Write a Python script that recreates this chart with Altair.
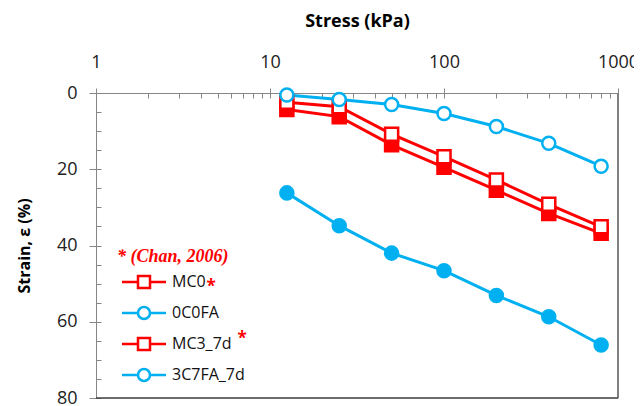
import altair as alt
import pandas as pd

# ---- data ----
stress = [12.5, 25, 50, 100, 200, 400, 800]
mc0 = [4.3, 6.2, 13.6, 19.5, 25.5, 31.6, 36.8]
c0fa = [26.2, 34.8, 42.0, 46.6, 53.1, 58.7, 66.1]
mc3_7d = [2.4, 3.6, 10.8, 16.7, 22.8, 29.2, 35.1]
c7fa_7d = [0.5, 1.7, 3.0, 5.4, 8.8, 13.2, 19.2]

series_names = ["MC0", "0C0FA", "MC3_7d", "3C7FA_7d"]
stroke_colors = ["#FF0000", "#00B0F0", "#FF0000", "#00B0F0"]
fill_colors = ["#FF0000", "#00B0F0", "#FFFFFF", "#FFFFFF"]
plot_shapes = ["square", "circle", "square", "circle"]

x_domain = [1, 1000]
y_domain = [0, 80]
x_major = [1, 10, 100, 1000]
x_minor = [1, 2, 3, 4, 5, 6, 7, 8, 9, 10, 20, 30, 40, 50, 60, 70, 80, 90,
           100, 200, 300, 400, 500, 600, 700, 800, 900, 1000]
y_major = [0, 20, 40, 60, 80]
y_minor = [0, 5, 10, 15, 20, 25, 30, 35, 40, 45, 50, 55, 60, 65, 70, 75, 80]

legend_title = "* (Chan, 2006)"

# legend symbols: line + marker as custom paths
sq_path = "M-3.67,0H-1M1,0H3.67M-1,-1H1V1H-1Z"
ci_path = ("M-3.67,0H-1M1,0H3.67M-1,0A1,1,0,1,0,1,0"
           "A1,1,0,1,0,-1,0Z")
legend_shapes = [sq_path, ci_path, sq_path, ci_path]

rows = []
for name, vals in zip(series_names, [mc0, c0fa, mc3_7d, c7fa_7d]):
    for s, v in zip(stress, vals):
        rows.append({"stress": s, "strain": v, "series": name})
df = pd.DataFrame(rows)

W, H = 522, 305
AX = "#868686"
FONT = "Open Sans"

xscale = alt.Scale(type="log", domain=x_domain, nice=False)
yscale = alt.Scale(domain=y_domain, reverse=True, nice=False)

stroke_scale = alt.Scale(domain=series_names, range=stroke_colors)
fill_scale = alt.Scale(domain=series_names, range=fill_colors)

one = pd.DataFrame({"t": ["*"]})

# plot-area frame (right and bottom edges)
frame_right = alt.Chart(one).mark_rule(color="#7f7f7f", strokeWidth=2).encode(
    x=alt.value(W), y=alt.value(0), y2=alt.value(H))
frame_bottom = alt.Chart(one).mark_rule(color="#404040", strokeWidth=1.5).encode(
    x=alt.value(0), x2=alt.value(W), y=alt.value(H))

lines = alt.Chart(df).mark_line(strokeWidth=3).encode(
    x=alt.X("stress:Q", scale=xscale, axis=alt.Axis(
        orient="top", values=x_major, format="d", tickSize=5,
        labelPadding=17, labelFlush=False, grid=False, domainColor=AX,
        tickColor=AX, labelFont=FONT, labelFontSize=18, labelColor="#222",
        title="Stress (kPa)", titleFont=FONT, titleFontSize=18,
        titleFontWeight="bold", titleColor="#000", titlePadding=23)),
    y=alt.Y("strain:Q", scale=yscale, axis=alt.Axis(
        orient="left", values=y_major, tickSize=7, labelPadding=12,
        labelFlush=False, grid=False, domainColor=AX, tickColor=AX,
        labelFont=FONT, labelFontSize=18, labelColor="#222",
        title="Strain, ε (%)", titleFont=FONT, titleFontSize=16,
        titleFontWeight="bold", titleColor="#000", titlePadding=24)),
    stroke=alt.Stroke("series:N", scale=stroke_scale, legend=None),
    detail="series:N",
)

points = alt.Chart(df).mark_point(size=170, strokeWidth=2.5, opacity=1).encode(
    x=alt.X("stress:Q", scale=xscale, axis=alt.Axis(
        orient="top", values=x_minor, labels=False, domain=False,
        tickSize=5, offset=-5, grid=False, tickColor=AX, title=None)),
    y=alt.Y("strain:Q", scale=yscale, axis=alt.Axis(
        orient="left", values=y_minor, labels=False, domain=False,
        tickSize=5, offset=-5, grid=False, tickColor=AX, title=None)),
    stroke=alt.Stroke("series:N", scale=stroke_scale, legend=None),
    fill=alt.Fill("series:N", scale=fill_scale, legend=None),
    shape=alt.Shape("series:N", scale=alt.Scale(domain=series_names,
                                                range=plot_shapes),
                    legend=None),
)

data_layer = alt.layer(lines, points).resolve_axis(
    x="independent", y="independent")

leg = dict(orient="none", legendX=21, legendY=155, padding=0,
           titleFont="Liberation Serif", titleFontSize=18,
           titleFontStyle="italic", titleFontWeight="bold",
           titleColor="#FF0000", titlePadding=8, labelFont=FONT,
           labelFontSize=16, labelColor="#111", symbolSize=144,
           symbolStrokeWidth=2.5, symbolOffset=19, labelOffset=20,
           rowPadding=9, labelLimit=300)

# invisible layer that carries the legend
legend_layer = alt.Chart(df).mark_point(opacity=0).encode(
    x=alt.X("stress:Q", scale=xscale, axis=None),
    y=alt.Y("strain:Q", scale=yscale, axis=None),
    fill=alt.Fill("series:N", scale=fill_scale, title=legend_title,
                  legend=alt.Legend(**leg)),
    stroke=alt.Stroke("series:N", scale=stroke_scale, title=legend_title,
                      legend=alt.Legend(**leg)),
    shape=alt.Shape("series:N", scale=alt.Scale(domain=series_names,
                                                range=legend_shapes),
                    title=legend_title, legend=alt.Legend(**leg)),
)

star1 = alt.Chart(one).mark_text(color="#FF0000", fontSize=17,
                                 font=FONT, fontWeight="bold").encode(
    text="t:N", x=alt.value(115), y=alt.value(194))
star2 = alt.Chart(one).mark_text(color="#FF0000", fontSize=17,
                                 font=FONT, fontWeight="bold").encode(
    text="t:N", x=alt.value(146), y=alt.value(246))

chart = alt.layer(data_layer, legend_layer, star1, star2,
                  frame_right, frame_bottom).resolve_scale(
    fill="independent", stroke="independent", shape="independent"
).resolve_axis(
    x="independent", y="independent"
).properties(
    width=W, height=H,
    autosize=alt.AutoSizeParams(type="none"),
    padding={"left": 88, "top": 85, "right": 16, "bottom": 8},
)

chart.save("out.html", embed_options={"renderer": "svg", "actions": False})
